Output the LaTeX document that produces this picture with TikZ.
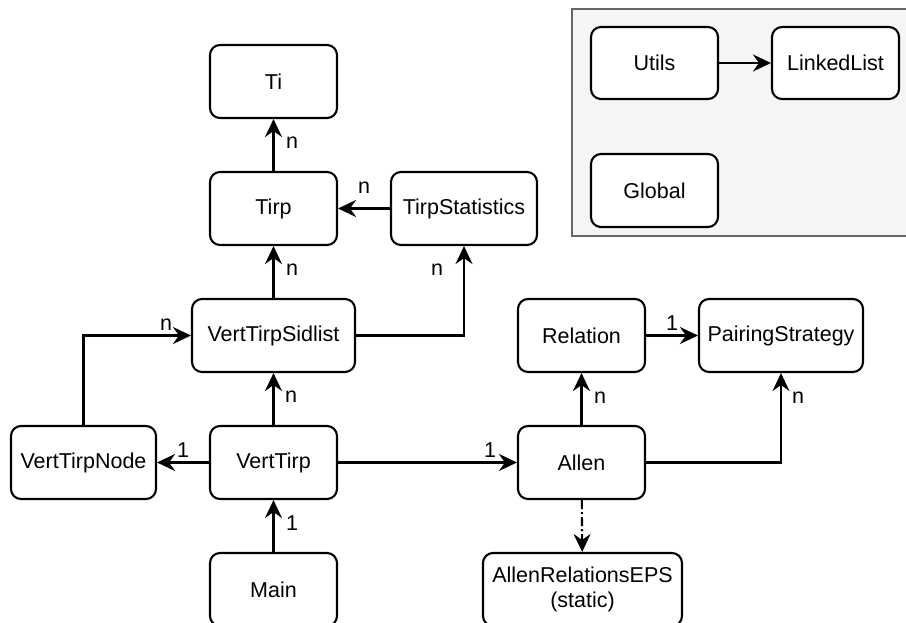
\documentclass[tikz,border=0pt]{standalone}
\usepackage{fontspec}
\setmainfont{Liberation Sans}
\usetikzlibrary{arrows.meta}
\definecolor{grpfill}{HTML}{F5F5F5}
\definecolor{grpline}{HTML}{666666}
\begin{document}
\begin{tikzpicture}[x=1pt,y=-1pt,
  box/.style={draw, line width=2.1pt, rounded corners=10pt, fill=white,
    minimum height=73pt, inner sep=0pt, font=\fontsize{21.5}{25}\selectfont, align=center},
  conn/.style={line width=2.1pt, -{Stealth[length=18pt,width=17pt,inset=6pt]}},
  dashdotline/.style={dash pattern=on 9pt off 3pt on 2pt off 3pt},
  lbl/.style={font=\fontsize{21.5}{25}\selectfont, inner sep=0pt},
  grp/.style={draw=grpline, fill=grpfill, line width=1.4pt, minimum width=338pt, minimum height=227pt, inner sep=0pt}
]
\useasboundingbox (0,0) rectangle (906,623);

% group frame
\node[grp] (group) at (741,122.5) {};

% nodes
\node[box, minimum width=127pt] (Ti) at (273.5,81.5) {Ti};
\node[box, minimum width=127pt] (Tirp) at (273.5,208.5) {Tirp};
\node[box, minimum width=146pt] (TirpStatistics) at (464,208.5) {TirpStatistics};
\node[box, minimum width=163pt] (VertTirpSidlist) at (273.5,335.5) {VertTirpSidlist};
\node[box, minimum width=145pt] (VertTirpNode) at (83.5,462.5) {VertTirpNode};
\node[box, minimum width=127pt] (VertTirp) at (273.5,462.5) {VertTirp};
\node[box, minimum width=127pt] (Main) at (273.5,589.5) {Main};
\node[box, minimum width=127pt] (Relation) at (581.5,335.5) {Relation};
\node[box, minimum width=164pt] (PairingStrategy) at (781,335.5) {PairingStrategy};
\node[box, minimum width=127pt] (Allen) at (581.5,462.5) {Allen};
\node[box, minimum width=199pt] (AllenRelationsEPS) at (582.5,589.5) {AllenRelationsEPS\\(static)};
\node[box, minimum width=127pt, minimum height=72pt] (Utils) at (654.5,63) {Utils};
\node[box, minimum width=127pt, minimum height=72pt] (LinkedList) at (835.5,63) {LinkedList};
\node[box, minimum width=127pt] (Global) at (654.5,190.5) {Global};

% connectors
\draw[conn] (Tirp) -- (Ti);
\draw[conn] (TirpStatistics) -- (Tirp);
\draw[conn] (VertTirpSidlist) -- (Tirp);
\draw[conn] (VertTirpSidlist.east) -| (TirpStatistics.south);
\draw[conn] (VertTirpNode.north) |- (VertTirpSidlist.west);
\draw[conn] (VertTirp) -- (VertTirpSidlist);
\draw[conn] (VertTirp) -- (VertTirpNode);
\draw[conn] (VertTirp) -- (Allen);
\draw[conn] (Allen) -- (Relation);
\draw[conn] (Allen.east) -| (PairingStrategy.south);
\draw[conn] (Relation) -- (PairingStrategy);
\draw[conn, dashdotline] (Allen) -- (AllenRelationsEPS);
\draw[conn] (Main) -- (VertTirp);
\draw[conn] (Utils) -- (LinkedList);

% multiplicity labels
\node[lbl] (l1) at (292,143) {n};
\node[lbl] (l2) at (364,188) {n};
\node[lbl] (l3) at (292,270) {n};
\node[lbl] (l4) at (437,270) {n};
\node[lbl] (l5) at (166,325) {n};
\node[lbl] (l6) at (291,397) {n};
\node[lbl] (l7) at (183,450) {1};
\node[lbl] (l8) at (490,450) {1};
\node[lbl] (l9) at (600,398) {n};
\node[lbl] (l10) at (798,398) {n};
\node[lbl] (l11) at (672,323) {1};
\node[lbl] (l12) at (292,523) {1};
\end{tikzpicture}
\end{document}
